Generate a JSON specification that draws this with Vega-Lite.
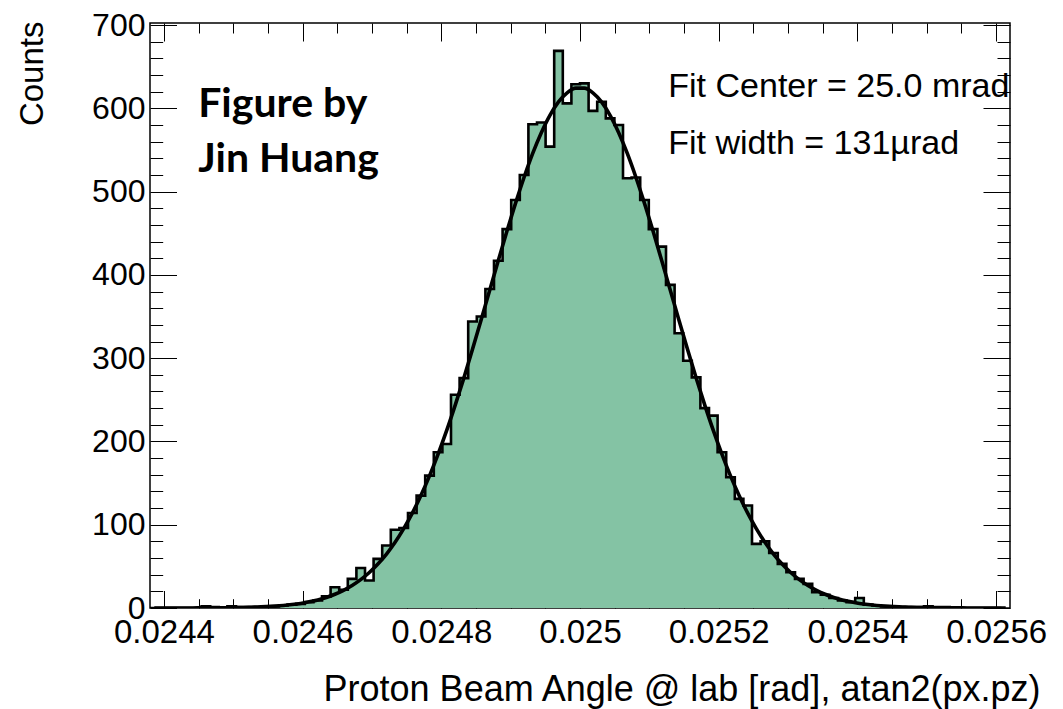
{
  "$schema": "https://vega.github.io/schema/vega-lite/v6.json",
  "width": 860,
  "height": 585,
  "autosize": {"type": "none"},
  "padding": {"left": 150, "top": 23, "right": 53, "bottom": 101},
  "background": "white",
  "config": {
    "view": {"stroke": "black", "strokeWidth": 1.5},
    "axis": {
      "domain": false,
      "grid": false,
      "labelColor": "black",
      "tickColor": "black",
      "tickWidth": 1,
      "titleColor": "black",
      "labelFont": "Liberation Sans",
      "titleFont": "Liberation Sans",
      "titleFontWeight": "normal",
      "labelOverlap": false,
      "labelFlush": false,
      "labelBound": false,
      "zindex": 1
    }
  },
  "datasets": {
    "hist": [
      {"angle": 0.02438, "counts": 0}, {"angle": 0.0243924, "counts": 0}, {"angle": 0.0244048, "counts": 0},
      {"angle": 0.0244172, "counts": 0}, {"angle": 0.0244296, "counts": 0}, {"angle": 0.024442, "counts": 0},
      {"angle": 0.0244544, "counts": 2}, {"angle": 0.0244668, "counts": 1}, {"angle": 0.0244792, "counts": 0},
      {"angle": 0.0244916, "counts": 2}, {"angle": 0.024504, "counts": 1}, {"angle": 0.0245164, "counts": 1},
      {"angle": 0.0245288, "counts": 1}, {"angle": 0.0245412, "counts": 2}, {"angle": 0.0245536, "counts": 2},
      {"angle": 0.024566, "counts": 3}, {"angle": 0.0245784, "counts": 4}, {"angle": 0.0245908, "counts": 5},
      {"angle": 0.0246032, "counts": 7}, {"angle": 0.0246156, "counts": 9}, {"angle": 0.024628, "counts": 14},
      {"angle": 0.0246404, "counts": 25}, {"angle": 0.0246528, "counts": 22}, {"angle": 0.0246652, "counts": 35},
      {"angle": 0.0246776, "counts": 48}, {"angle": 0.02469, "counts": 33}, {"angle": 0.0247024, "counts": 59},
      {"angle": 0.0247148, "counts": 75}, {"angle": 0.0247272, "counts": 94}, {"angle": 0.0247396, "counts": 96},
      {"angle": 0.024752, "counts": 114}, {"angle": 0.0247644, "counts": 135}, {"angle": 0.0247768, "counts": 159},
      {"angle": 0.0247892, "counts": 187}, {"angle": 0.0248016, "counts": 197}, {"angle": 0.024814, "counts": 256},
      {"angle": 0.0248264, "counts": 276}, {"angle": 0.0248388, "counts": 344}, {"angle": 0.0248512, "counts": 350},
      {"angle": 0.0248636, "counts": 383}, {"angle": 0.024876, "counts": 417}, {"angle": 0.0248884, "counts": 455},
      {"angle": 0.0249008, "counts": 490}, {"angle": 0.0249132, "counts": 520}, {"angle": 0.0249256, "counts": 581},
      {"angle": 0.024938, "counts": 583}, {"angle": 0.0249504, "counts": 554}, {"angle": 0.0249628, "counts": 669},
      {"angle": 0.0249752, "counts": 606}, {"angle": 0.0249876, "counts": 629}, {"angle": 0.025, "counts": 630},
      {"angle": 0.0250124, "counts": 597}, {"angle": 0.0250248, "counts": 608}, {"angle": 0.0250372, "counts": 588},
      {"angle": 0.0250496, "counts": 580}, {"angle": 0.025062, "counts": 516}, {"angle": 0.0250744, "counts": 517},
      {"angle": 0.0250868, "counts": 490}, {"angle": 0.0250992, "counts": 455}, {"angle": 0.0251116, "counts": 434},
      {"angle": 0.025124, "counts": 388}, {"angle": 0.0251364, "counts": 330}, {"angle": 0.0251488, "counts": 297},
      {"angle": 0.0251612, "counts": 277}, {"angle": 0.0251736, "counts": 240}, {"angle": 0.025186, "counts": 231},
      {"angle": 0.0251984, "counts": 187}, {"angle": 0.0252108, "counts": 157}, {"angle": 0.0252232, "counts": 131},
      {"angle": 0.0252356, "counts": 123}, {"angle": 0.025248, "counts": 77}, {"angle": 0.0252604, "counts": 80},
      {"angle": 0.0252728, "counts": 66}, {"angle": 0.0252852, "counts": 53}, {"angle": 0.0252976, "counts": 43},
      {"angle": 0.02531, "counts": 35}, {"angle": 0.0253224, "counts": 29}, {"angle": 0.0253348, "counts": 19},
      {"angle": 0.0253472, "counts": 16}, {"angle": 0.0253596, "counts": 12}, {"angle": 0.025372, "counts": 9},
      {"angle": 0.0253844, "counts": 7}, {"angle": 0.0253968, "counts": 12}, {"angle": 0.0254092, "counts": 4},
      {"angle": 0.0254216, "counts": 3}, {"angle": 0.025434, "counts": 2}, {"angle": 0.0254464, "counts": 2},
      {"angle": 0.0254588, "counts": 1}, {"angle": 0.0254712, "counts": 1}, {"angle": 0.0254836, "counts": 1},
      {"angle": 0.025496, "counts": 2}, {"angle": 0.0255084, "counts": 1}, {"angle": 0.0255208, "counts": 1},
      {"angle": 0.0255332, "counts": 0}, {"angle": 0.0255456, "counts": 0}, {"angle": 0.025558, "counts": 0},
      {"angle": 0.0255704, "counts": 0}, {"angle": 0.0255828, "counts": 0}, {"angle": 0.0255952, "counts": 0},
      {"angle": 0.0256076, "counts": 0}
    ],
    "gausfit": [
      {"angle": 0.0243862, "fit": 0}, {"angle": 0.0243986, "fit": 0}, {"angle": 0.024411, "fit": 0},
      {"angle": 0.0244234, "fit": 0}, {"angle": 0.0244358, "fit": 0}, {"angle": 0.0244482, "fit": 0.1},
      {"angle": 0.0244606, "fit": 0.1}, {"angle": 0.024473, "fit": 0.2}, {"angle": 0.0244854, "fit": 0.3},
      {"angle": 0.0244978, "fit": 0.4}, {"angle": 0.0245102, "fit": 0.6}, {"angle": 0.0245226, "fit": 0.8},
      {"angle": 0.024535, "fit": 1.2}, {"angle": 0.0245474, "fit": 1.6}, {"angle": 0.0245598, "fit": 2.2},
      {"angle": 0.0245722, "fit": 3.0}, {"angle": 0.0245846, "fit": 4.1}, {"angle": 0.024597, "fit": 5.5},
      {"angle": 0.0246094, "fit": 7.4}, {"angle": 0.0246218, "fit": 9.7}, {"angle": 0.0246342, "fit": 12.7},
      {"angle": 0.0246466, "fit": 16.5}, {"angle": 0.024659, "fit": 21.2}, {"angle": 0.0246714, "fit": 27.0},
      {"angle": 0.0246838, "fit": 34.0}, {"angle": 0.0246962, "fit": 42.6}, {"angle": 0.0247086, "fit": 52.8},
      {"angle": 0.024721, "fit": 64.8}, {"angle": 0.0247334, "fit": 78.9}, {"angle": 0.0247458, "fit": 95.3},
      {"angle": 0.0247582, "fit": 113.9}, {"angle": 0.0247706, "fit": 135.1}, {"angle": 0.024783, "fit": 158.7},
      {"angle": 0.0247954, "fit": 184.8}, {"angle": 0.0248078, "fit": 213.2}, {"angle": 0.0248202, "fit": 243.9},
      {"angle": 0.0248326, "fit": 276.4}, {"angle": 0.024845, "fit": 310.6}, {"angle": 0.0248574, "fit": 345.8},
      {"angle": 0.0248698, "fit": 381.6}, {"angle": 0.0248822, "fit": 417.3}, {"angle": 0.0248946, "fit": 452.3},
      {"angle": 0.024907, "fit": 485.9}, {"angle": 0.0249194, "fit": 517.3}, {"angle": 0.0249318, "fit": 545.9},
      {"angle": 0.0249442, "fit": 570.8}, {"angle": 0.0249566, "fit": 591.7}, {"angle": 0.024969, "fit": 607.8},
      {"angle": 0.0249814, "fit": 618.7}, {"angle": 0.0249938, "fit": 624.3}, {"angle": 0.0250062, "fit": 624.3},
      {"angle": 0.0250186, "fit": 618.7}, {"angle": 0.025031, "fit": 607.8}, {"angle": 0.0250434, "fit": 591.7},
      {"angle": 0.0250558, "fit": 570.8}, {"angle": 0.0250682, "fit": 545.9}, {"angle": 0.0250806, "fit": 517.3},
      {"angle": 0.025093, "fit": 485.9}, {"angle": 0.0251054, "fit": 452.3}, {"angle": 0.0251178, "fit": 417.3},
      {"angle": 0.0251302, "fit": 381.6}, {"angle": 0.0251426, "fit": 345.8}, {"angle": 0.025155, "fit": 310.6},
      {"angle": 0.0251674, "fit": 276.4}, {"angle": 0.0251798, "fit": 243.9}, {"angle": 0.0251922, "fit": 213.2},
      {"angle": 0.0252046, "fit": 184.8}, {"angle": 0.025217, "fit": 158.7}, {"angle": 0.0252294, "fit": 135.1},
      {"angle": 0.0252418, "fit": 113.9}, {"angle": 0.0252542, "fit": 95.3}, {"angle": 0.0252666, "fit": 78.9},
      {"angle": 0.025279, "fit": 64.8}, {"angle": 0.0252914, "fit": 52.8}, {"angle": 0.0253038, "fit": 42.6},
      {"angle": 0.0253162, "fit": 34.0}, {"angle": 0.0253286, "fit": 27.0}, {"angle": 0.025341, "fit": 21.2},
      {"angle": 0.0253534, "fit": 16.5}, {"angle": 0.0253658, "fit": 12.7}, {"angle": 0.0253782, "fit": 9.7},
      {"angle": 0.0253906, "fit": 7.4}, {"angle": 0.025403, "fit": 5.5}, {"angle": 0.0254154, "fit": 4.1},
      {"angle": 0.0254278, "fit": 3.0}, {"angle": 0.0254402, "fit": 2.2}, {"angle": 0.0254526, "fit": 1.6},
      {"angle": 0.025465, "fit": 1.2}, {"angle": 0.0254774, "fit": 0.8}, {"angle": 0.0254898, "fit": 0.6},
      {"angle": 0.0255022, "fit": 0.4}, {"angle": 0.0255146, "fit": 0.3}, {"angle": 0.025527, "fit": 0.2},
      {"angle": 0.0255394, "fit": 0.1}, {"angle": 0.0255518, "fit": 0.1}, {"angle": 0.0255642, "fit": 0},
      {"angle": 0.0255766, "fit": 0}, {"angle": 0.025589, "fit": 0}, {"angle": 0.0256014, "fit": 0},
      {"angle": 0.0256138, "fit": 0}
    ],
    "fitlabel": [
      {"angle": 0.0251273, "counts": 613.4, "note": ["Fit Center = 25.0 mrad", "Fit width = 131\u00b5rad"]}
    ],
    "credit": [
      {"angle": 0.0244495, "counts": 590.2, "note": ["Figure by", "Jin Huang"]}
    ]
  },
  "resolve": {"axis": {"x": "independent", "y": "independent"}},
  "layer": [
    {
      "data": {"name": "hist"},
      "mark": {"type": "area", "interpolate": "step-after", "color": "#84c3a4", "clip": true},
      "encoding": {
        "x": {
          "field": "angle", "type": "quantitative",
          "scale": {"domain": [0.02438, 0.02562], "nice": false, "zero": false},
          "axis": {
            "orient": "bottom", "ticks": false, "labels": true,
            "values": [0.0244, 0.0246, 0.0248, 0.025, 0.0252, 0.0254, 0.0256],
            "format": "~g", "labelFontSize": 33, "labelPadding": 8, "labelBaseline": "top",
            "title": "Proton Beam Angle @ lab [rad], atan2(px.pz)",
            "titleFontSize": 36, "titleAlign": "right", "titleBaseline": "alphabetic",
            "titleX": 890, "titleY": 92, "titleAnchor": "end"
          }
        },
        "y": {
          "field": "counts", "type": "quantitative",
          "scale": {"domain": [0, 702.5], "nice": false, "zero": true},
          "axis": {
            "orient": "left", "ticks": false, "labels": true,
            "values": [0, 100, 200, 300, 400, 500, 600, 700],
            "labelFontSize": 32, "labelPadding": 5,
            "title": "Counts", "titleFontSize": 33, "titleAngle": -90,
            "titleAlign": "right", "titleBaseline": "alphabetic", "titleAnchor": "end",
            "titleX": -108, "titleY": -2
          }
        }
      }
    },
    {
      "data": {"name": "hist"},
      "mark": {"type": "line", "interpolate": "step-after", "color": "black", "strokeWidth": 2.6, "clip": true},
      "encoding": {
        "x": {
          "field": "angle", "type": "quantitative",
          "axis": {
            "orient": "bottom", "labels": false, "title": null, "tickSize": -17.5,
            "values": [0.0244, 0.0246, 0.0248, 0.025, 0.0252, 0.0254, 0.0256]
          }
        },
        "y": {
          "field": "counts", "type": "quantitative",
          "axis": {
            "orient": "left", "labels": false, "title": null, "tickSize": -26.5,
            "values": [0, 100, 200, 300, 400, 500, 600, 700]
          }
        }
      }
    },
    {
      "data": {"name": "gausfit"},
      "mark": {"type": "line", "interpolate": "monotone", "color": "black", "strokeWidth": 3.6, "clip": true},
      "encoding": {
        "x": {
          "field": "angle", "type": "quantitative",
          "axis": {
            "orient": "bottom", "labels": false, "title": null, "tickSize": -9.3,
            "values": [0.02445, 0.0245, 0.02455, 0.02465, 0.0247, 0.02475, 0.02485, 0.0249, 0.02495,
                       0.02505, 0.0251, 0.02515, 0.02525, 0.0253, 0.02535, 0.02545, 0.0255, 0.02555]
          }
        },
        "y": {
          "field": "fit", "type": "quantitative",
          "axis": {
            "orient": "left", "labels": false, "title": null, "tickSize": -12.7,
            "values": [20, 40, 60, 80, 120, 140, 160, 180, 220, 240, 260, 280, 320, 340, 360, 380,
                       420, 440, 460, 480, 520, 540, 560, 580, 620, 640, 660, 680]
          }
        }
      }
    },
    {
      "data": {"name": "fitlabel"},
      "mark": {"type": "text", "font": "Liberation Sans", "fontSize": 34, "align": "left",
               "baseline": "alphabetic", "lineHeight": 56.6, "color": "black"},
      "encoding": {
        "text": {"field": "note"},
        "x": {
          "field": "angle", "type": "quantitative",
          "axis": {
            "orient": "top", "labels": false, "title": null, "tickSize": -18,
            "values": [0.0244, 0.0246, 0.0248, 0.025, 0.0252, 0.0254, 0.0256]
          }
        },
        "y": {
          "field": "counts", "type": "quantitative",
          "axis": {
            "orient": "right", "labels": false, "title": null, "tickSize": -27,
            "values": [0, 100, 200, 300, 400, 500, 600, 700]
          }
        }
      }
    },
    {
      "data": {"name": "credit"},
      "mark": {"type": "text", "font": "Lato", "fontWeight": "bold", "fontSize": 41, "align": "left",
               "baseline": "alphabetic", "lineHeight": 55, "color": "black"},
      "encoding": {
        "text": {"field": "note"},
        "x": {
          "field": "angle", "type": "quantitative",
          "axis": {
            "orient": "top", "labels": false, "title": null, "tickSize": -10,
            "values": [0.02445, 0.0245, 0.02455, 0.02465, 0.0247, 0.02475, 0.02485, 0.0249, 0.02495,
                       0.02505, 0.0251, 0.02515, 0.02525, 0.0253, 0.02535, 0.02545, 0.0255, 0.02555]
          }
        },
        "y": {
          "field": "counts", "type": "quantitative",
          "axis": {
            "orient": "right", "labels": false, "title": null, "tickSize": -13,
            "values": [20, 40, 60, 80, 120, 140, 160, 180, 220, 240, 260, 280, 320, 340, 360, 380,
                       420, 440, 460, 480, 520, 540, 560, 580, 620, 640, 660, 680]
          }
        }
      }
    }
  ]
}
